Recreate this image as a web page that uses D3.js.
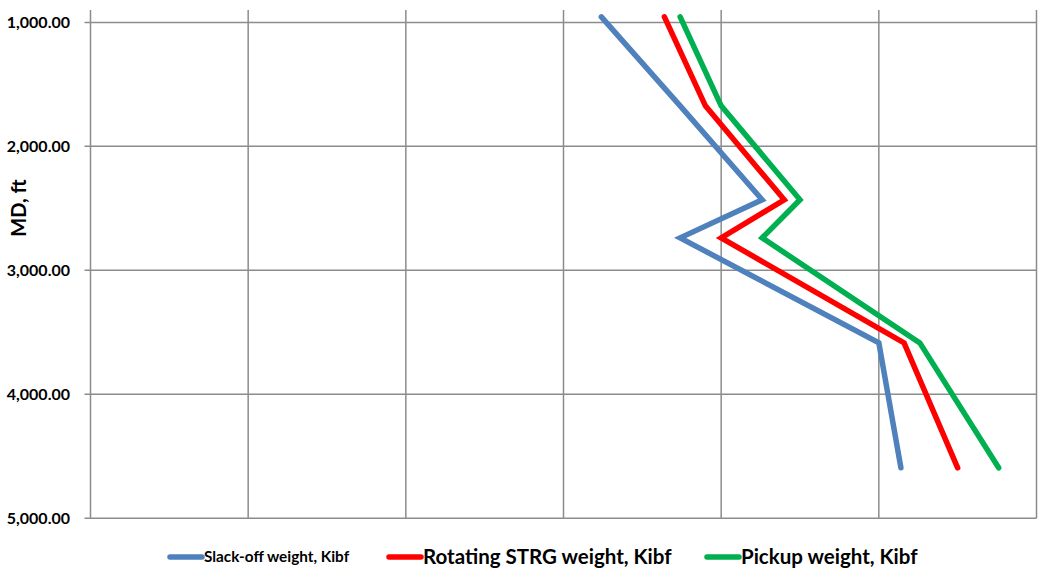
<!DOCTYPE html>
<html lang="en">
<head>
<meta charset="UTF-8"/>
<title>Hook load vs MD</title>
<script src="https://d3js.org/d3.v7.min.js"></script>
<style>
  body { margin: 0; background: #fff; }
  text { font-family: Lato, "Open Sans", sans-serif; font-weight: bold; fill: #000; }
</style>
</head>
<body>
<script>
var w = 1038;
var h = 570;

// depths (MD, ft) shared by every series
var depths = [955, 1673, 2431, 2738, 3585, 4593];

// weights, Kibf
var slackOff = [162, 187, 213, 187, 250, 257];
var rotating = [182, 195, 220, 200, 258, 275];
var pickup   = [187, 200, 225, 213, 263, 288];

var seriesNames = ["Slack-off weight, Kibf", "Rotating STRG weight, Kibf", "Pickup weight, Kibf"];
var seriesColors = ["#4f81bd", "#ff0000", "#00b050"];
var yTicks = [1000, 2000, 3000, 4000, 5000];
var xTicks = [0, 50, 100, 150, 200, 250, 300];

var series = [slackOff, rotating, pickup].map(function(vals, i) {
    return {
        name: seriesNames[i],
        color: seriesColors[i],
        points: vals.map(function(v, j) { return [v, depths[j]]; })
    };
});

var xScale = d3.scaleLinear().domain([0, 300]).range([90.5, 1036.5]);
var yScale = d3.scaleLinear().domain([900, 5000]).range([10, 518.3]);

var svg = d3.select("body").append("svg")
    .attr("width", w)
    .attr("height", h);

/* gridlines */
svg.append("g")
    .selectAll("line")
    .data(xTicks)
    .enter()
    .append("line")
    .attr("x1", d => xScale(d)).attr("x2", d => xScale(d))
    .attr("y1", yScale(900)).attr("y2", yScale(5000))
    .attr("stroke", "#8c8c8c")
    .attr("stroke-width", 1.5);

svg.append("g")
    .selectAll("line")
    .data(yTicks)
    .enter()
    .append("line")
    .attr("x1", xScale(0) - 6).attr("x2", xScale(300))
    .attr("y1", d => yScale(d)).attr("y2", d => yScale(d))
    .attr("stroke", "#8c8c8c")
    .attr("stroke-width", 1.5);

/* y labels */
svg.append("g")
    .selectAll("text")
    .data(yTicks)
    .enter()
    .append("text")
    .attr("x", 70)
    .attr("y", d => yScale(d))
    .attr("dy", "0.35em")
    .attr("text-anchor", "end")
    .attr("font-size", "16px")
    .text(d => d3.format(",.2f")(d));

svg.append("text")
    .attr("transform", "translate(26,208) rotate(-90)")
    .attr("text-anchor", "middle")
    .attr("font-size", "20px")
    .text("MD, ft");

/* lines */
var line = d3.line()
    .x(d => xScale(d[0]))
    .y(d => yScale(d[1]));

svg.append("g")
    .selectAll("path")
    .data(series)
    .enter()
    .append("path")
    .attr("d", d => line(d.points))
    .attr("fill", "none")
    .attr("stroke", d => d.color)
    .attr("stroke-width", 5.5)
    .attr("stroke-linecap", "round")
    .attr("stroke-linejoin", "miter");

/* legend */
var legendX = [168, 387, 705];
var legendSize = ["15.3px", "20.5px", "20.5px"];
var legend = svg.append("g")
    .selectAll("g")
    .data(series)
    .enter()
    .append("g")
    .attr("transform", (d, i) => "translate(" + legendX[i] + ",557)");

legend.append("line")
    .attr("x1", 2).attr("x2", 34)
    .attr("stroke", d => d.color)
    .attr("stroke-width", 5.5)
    .attr("stroke-linecap", "round");

legend.append("text")
    .attr("x", 36)
    .attr("dy", "0.35em")
    .attr("font-size", (d, i) => legendSize[i])
    .text(d => d.name);
</script>
</body>
</html>
